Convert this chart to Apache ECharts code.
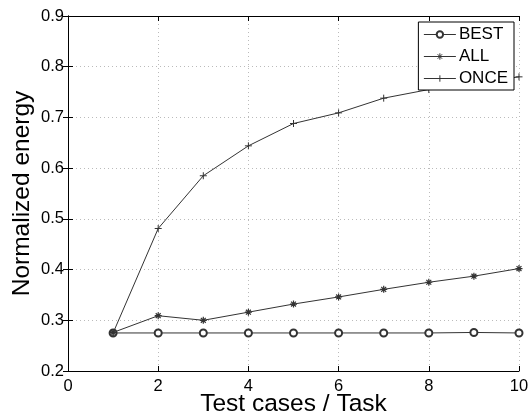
<!DOCTYPE html>
<html>
<head>
<meta charset="utf-8">
<script src="https://cdn.jsdelivr.net/npm/echarts@6/dist/echarts.min.js"></script>
<style>
  html, body { margin: 0; padding: 0; background: #fff; }
  #chart { width: 530px; height: 416px; }
</style>
</head>
<body>
<div id="chart"></div>
<script>
// 数据
var testCases = [1, 2, 3, 4, 5, 6, 7, 8, 9, 10];
var bestValues = [0.275, 0.275, 0.275, 0.275, 0.275, 0.275, 0.275, 0.275, 0.276, 0.275];
var allValues = [0.276, 0.309, 0.300, 0.316, 0.332, 0.346, 0.361, 0.375, 0.387, 0.402];
var onceValues = [0.275, 0.481, 0.585, 0.644, 0.688, 0.709, 0.738, 0.755, 0.768, 0.780];
var seriesNames = ["BEST", "ALL", "ONCE"];

var font = "Liberation Sans";
var lineColor = "#333";
var starPath = "path://M5 0L5 10M0 5L10 5M1.5 1.5L8.5 8.5M8.5 1.5L1.5 8.5";
var plusPath = "path://M5 0L5 10M0 5L10 5";

function pairs(xs, ys) {
  var out = [];
  for (var i = 0; i < xs.length; i++) out.push([xs[i], ys[i]]);
  return out;
}

var frameAxisLine = { show: true, lineStyle: { color: "#000", width: 1 } };
var innerTick = { show: true, inside: true, length: 5, lineStyle: { color: "#000" } };
var dottedGrid = { show: true, lineStyle: { color: "#bbb", type: [1, 3], width: 1 } };

var option = {
  animation: false,
  backgroundColor: "#fff",
  grid: { left: 68, right: 11, top: 16, bottom: 45, containLabel: false, outerBoundsMode: "none" },
  legend: {
    data: seriesNames,
    orient: "vertical",
    right: 16,
    top: 22,
    backgroundColor: "#fff",
    borderColor: "#000",
    borderWidth: 1,
    borderRadius: 0,
    padding: [4, 6, 3, 5],
    itemWidth: 32,
    itemHeight: 8,
    itemGap: 5,
    lineStyle: { width: 1 },
    itemStyle: { borderWidth: 1 },
    textStyle: { fontFamily: font, fontSize: 17, color: "#000", padding: [0, 0, 0, -2] }
  },
  xAxis: [
    {
      type: "value",
      min: 0,
      max: 10,
      interval: 2,
      name: "Test cases / Task",
      nameLocation: "middle",
      nameGap: 21,
      nameMoveOverlap: false,
      nameTextStyle: { fontFamily: font, fontSize: 24.5, color: "#000" },
      axisLine: frameAxisLine,
      axisTick: innerTick,
      axisLabel: { fontFamily: font, fontSize: 16.5, color: "#000", margin: 7 },
      splitLine: dottedGrid
    },
    {
      type: "value",
      position: "top",
      min: 0,
      max: 10,
      interval: 2,
      axisLine: frameAxisLine,
      axisTick: innerTick,
      axisLabel: { show: false },
      splitLine: { show: false }
    }
  ],
  yAxis: [
    {
      type: "value",
      min: 0.2,
      max: 0.9,
      interval: 0.1,
      name: "Normalized energy",
      nameLocation: "middle",
      nameGap: 33,
      nameMoveOverlap: false,
      nameTextStyle: { fontFamily: font, fontSize: 24.5, color: "#000" },
      axisLine: frameAxisLine,
      axisTick: innerTick,
      axisLabel: {
        fontFamily: font, fontSize: 16.5, color: "#000", margin: 4,
        formatter: function (v) { return v.toFixed(1); }
      },
      splitLine: dottedGrid
    },
    {
      type: "value",
      position: "right",
      min: 0.2,
      max: 0.9,
      interval: 0.1,
      axisLine: frameAxisLine,
      axisTick: innerTick,
      axisLabel: { show: false },
      splitLine: { show: false }
    }
  ],
  series: [
    {
      name: "BEST",
      type: "line",
      data: pairs(testCases, bestValues),
      symbol: "emptyCircle",
      symbolSize: 7,
      lineStyle: { color: lineColor, width: 1 },
      itemStyle: { color: lineColor, borderWidth: 1 }
    },
    {
      name: "ALL",
      type: "line",
      data: pairs(testCases, allValues),
      symbol: starPath,
      symbolSize: 7,
      lineStyle: { color: lineColor, width: 1 },
      itemStyle: { color: "none", borderColor: lineColor, borderWidth: 1.2 }
    },
    {
      name: "ONCE",
      type: "line",
      data: pairs(testCases, onceValues),
      symbol: plusPath,
      symbolSize: 7,
      lineStyle: { color: lineColor, width: 1 },
      itemStyle: { color: "none", borderColor: lineColor, borderWidth: 1 }
    }
  ]
};

var myChart = echarts.init(document.getElementById("chart"));
myChart.setOption(option);
</script>
</body>
</html>
